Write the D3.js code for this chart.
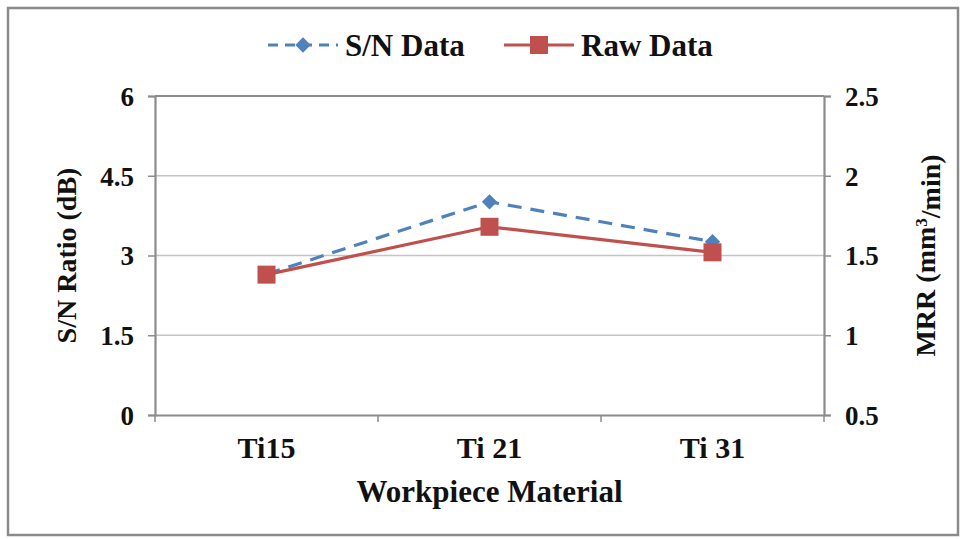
<!DOCTYPE html>
<html>
<head>
<meta charset="utf-8">
<script src="https://cdn.jsdelivr.net/npm/d3@7"></script>
<style>
  html, body { margin: 0; padding: 0; background: #fff; }
  svg { display: block; }
</style>
</head>
<body>
<svg id="chart" width="963" height="539"></svg>
<script>
// Workpiece materials on the x axis
const materials = ["Ti15", "Ti21", "Ti31"];
// S/N ratio (dB), left axis
const snData = [2.65, 4.01, 3.26];
// Material removal rate (mm³/min), right axis
const rawData = [1.38, 1.68, 1.52];
// Tick values for each axis
const leftTicks = [0, 1.5, 3, 4.5, 6];
const rightTicks = [0.5, 1, 1.5, 2, 2.5];

const FONT = "'Liberation Serif', 'Times New Roman', 'DejaVu Serif', serif";

const svg = d3.select("#chart");
const W = 963, H = 539;
const plot = { left: 155, right: 824, top: 96, bottom: 415 };

const axisColor = "#8c8c8c";
const gridColor = "#c4c4c4";
const blue = "#4F81BD";
const red = "#C0504D";

// Outer frame
svg.append("rect")
  .attr("x", 8).attr("y", 8)
  .attr("width", W - 13).attr("height", H - 12)
  .attr("fill", "#fff").attr("stroke", "#8a8a8a").attr("stroke-width", 2.5);

const x = d3.scaleBand().domain(materials).range([plot.left, plot.right]);
const yL = d3.scaleLinear().domain([0, 6]).range([plot.bottom, plot.top]);
const yR = d3.scaleLinear().domain([0.5, 2.5]).range([plot.bottom, plot.top]);

// Horizontal gridlines
svg.append("g").selectAll("line")
  .data(leftTicks.filter(t => t > 0 && t < 6))
  .join("line")
  .attr("x1", plot.left).attr("x2", plot.right)
  .attr("y1", d => yL(d)).attr("y2", d => yL(d))
  .attr("stroke", gridColor).attr("stroke-width", 1.3);

// Top border of the plot area
svg.append("line")
  .attr("x1", plot.left).attr("x2", plot.right)
  .attr("y1", yL(6)).attr("y2", yL(6))
  .attr("stroke", axisColor).attr("stroke-width", 2);

function styleAxis(g) {
  g.attr("font-family", FONT);
  g.selectAll(".domain").attr("stroke", axisColor).attr("stroke-width", 2.2);
  g.selectAll(".tick line").attr("stroke", axisColor).attr("stroke-width", 1.5);
  g.selectAll("text").attr("fill", "#111").attr("font-weight", "bold");
}

// Left axis
const gL = svg.append("g").attr("transform", `translate(${plot.left},0)`)
  .call(d3.axisLeft(yL).tickValues(leftTicks).tickSize(7).tickSizeOuter(7).tickPadding(14)
        .tickFormat(d => String(d)));
styleAxis(gL);
gL.selectAll("text").attr("font-size", 27).attr("dy", "0.35em");

// Right axis
const gR = svg.append("g").attr("transform", `translate(${plot.right},0)`)
  .call(d3.axisRight(yR).tickValues(rightTicks).tickSize(7).tickSizeOuter(7).tickPadding(14)
        .tickFormat(d => String(d)));
styleAxis(gR);
gR.selectAll("text").attr("font-size", 27).attr("dy", "0.35em");

// Bottom axis: tick marks between categories
const gB = svg.append("g").attr("transform", `translate(0,${plot.bottom})`)
  .call(d3.axisBottom(x).tickSize(0).tickPadding(22)
        .tickFormat(d => d === "Ti15" ? d : d.replace("Ti", "Ti ")));
styleAxis(gB);
gB.selectAll("text").attr("font-size", 30).attr("dy", "0.71em");
const boundaries = materials.map(m => x(m)).concat([x(materials[materials.length - 1]) + x.bandwidth()]);
gB.selectAll(".bnd").data(boundaries).join("line")
  .attr("x1", d => d).attr("x2", d => d)
  .attr("y1", 0).attr("y2", 7)
  .attr("stroke", axisColor).attr("stroke-width", 1.5);

const cx = m => x(m) + x.bandwidth() / 2;

// S/N series: dashed blue line with diamonds
const lineL = d3.line().x((d, i) => cx(materials[i])).y(d => yL(d));
svg.append("path").datum(snData)
  .attr("d", lineL).attr("fill", "none")
  .attr("stroke", blue).attr("stroke-width", 3.2)
  .attr("stroke-dasharray", "14,9");
svg.append("g").selectAll("path").data(snData).join("path")
  .attr("d", d3.symbol(d3.symbolDiamond2, 150))
  .attr("transform", (d, i) => `translate(${cx(materials[i])},${yL(d)})`)
  .attr("fill", blue);

// Raw MRR series: solid red line with squares
const lineR = d3.line().x((d, i) => cx(materials[i])).y(d => yR(d));
svg.append("path").datum(rawData)
  .attr("d", lineR).attr("fill", "none")
  .attr("stroke", red).attr("stroke-width", 3.2);
svg.append("g").selectAll("rect").data(rawData).join("rect")
  .attr("x", (d, i) => cx(materials[i]) - 9)
  .attr("y", d => yR(d) - 9)
  .attr("width", 18).attr("height", 18)
  .attr("fill", red);

// Axis titles
const labels = svg.append("g")
  .attr("font-family", FONT).attr("font-weight", "bold").attr("fill", "#111");

labels.append("text")
  .attr("transform", `translate(76,${(plot.top + plot.bottom) / 2}) rotate(-90)`)
  .attr("text-anchor", "middle").attr("font-size", 28)
  .text("S/N Ratio (dB)");

const rt = labels.append("text")
  .attr("transform", `translate(935,${(plot.top + plot.bottom) / 2}) rotate(-90)`)
  .attr("text-anchor", "middle").attr("font-size", 28);
rt.append("tspan").text("MRR (mm");
rt.append("tspan").attr("dy", "-0.45em").attr("font-size", 17).text("3");
rt.append("tspan").attr("dy", "0.45em").text("/min)");

labels.append("text")
  .attr("x", (plot.left + plot.right) / 2).attr("y", 502)
  .attr("text-anchor", "middle").attr("font-size", 31)
  .text("Workpiece Material");

// Legend
const items = [
  { label: "S/N Data", color: blue, dash: "10,7", marker: "diamond", x0: 268 },
  { label: "Raw Data", color: red, dash: null, marker: "square", x0: 504 }
];
items.forEach(it => {
  const g = labels.append("g").attr("transform", `translate(${it.x0},45)`);
  g.append("line").attr("x1", 0).attr("x2", 70).attr("y1", 0).attr("y2", 0)
    .attr("stroke", it.color).attr("stroke-width", 3.2)
    .attr("stroke-dasharray", it.dash);
  if (it.marker === "diamond") {
    g.append("path").attr("d", d3.symbol(d3.symbolDiamond2, 150))
      .attr("transform", "translate(35,0)").attr("fill", it.color);
  } else {
    g.append("rect").attr("x", 26).attr("y", -9).attr("width", 18).attr("height", 18)
      .attr("fill", it.color);
  }
  g.append("text").attr("x", 77).attr("y", 0).attr("dy", "0.35em")
    .attr("font-size", 31).text(it.label);
});
</script>
</body>
</html>
